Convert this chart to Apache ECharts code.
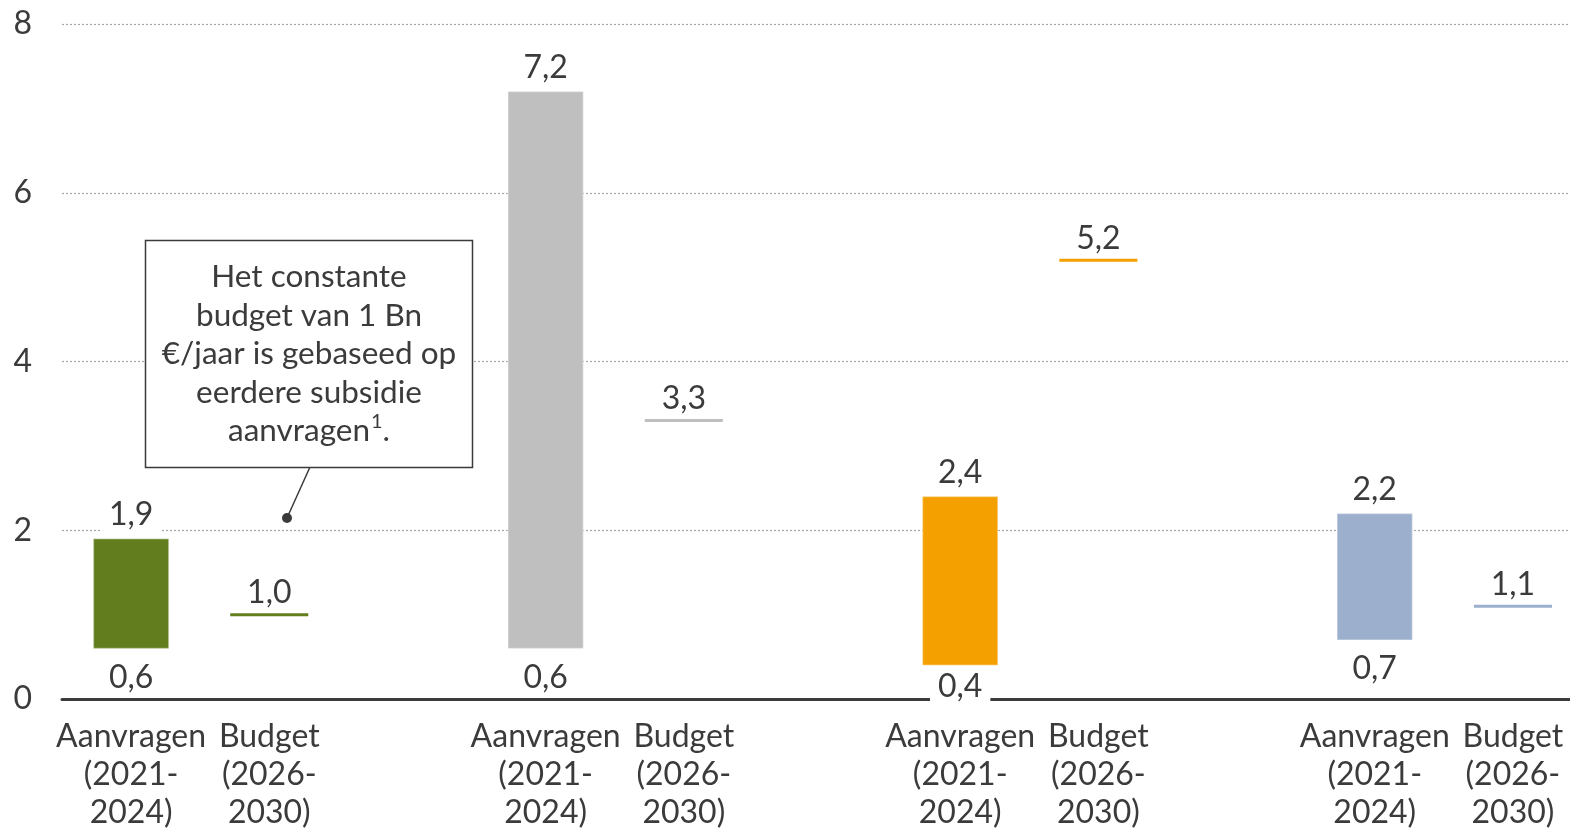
<!DOCTYPE html>
<html>
<head>
<meta charset="utf-8">
<script src="https://cdn.jsdelivr.net/npm/echarts@6/dist/echarts.min.js"></script>
<style>
  html, body { margin: 0; padding: 0; background: #fff; }
  #chart { width: 1570px; height: 828px; }
</style>
</head>
<body>
<div id="chart"></div>
<script>
// Category slots: request bar, budget line, spacer, repeated per group
const categories = [
  'Aanvragen\n(2021-\n2024)', 'Budget\n(2026-\n2030)', '',
  'Aanvragen\n(2021-\n2024)', 'Budget\n(2026-\n2030)', '',
  'Aanvragen\n(2021-\n2024)', 'Budget\n(2026-\n2030)', '',
  'Aanvragen\n(2021-\n2024)', 'Budget\n(2026-\n2030)'
];
const requestSlots = [0, 3, 6, 9];
const budgetSlots = [1, 4, 7, 10];
const requestLow = [0.6, 0.6, 0.4, 0.7];
const requestHigh = [1.9, 7.2, 2.4, 2.2];
const budget = [1.0, 3.3, 5.2, 1.1];
const groupColors = ['#617d1d', '#bfbfbf', '#f4a000', '#9cb0cd'];
const yTicks = { min: 0, max: 8, interval: 2 };

const TEXT = '#3b3b3b';
const FONT = 'Lato';
const FS = 32;

const fmt = v => v.toFixed(1).replace('.', ',');

const chart = echarts.init(document.getElementById('chart'));

const requestData = requestSlots.map((s, i) => [s, requestLow[i], requestHigh[i], i]);
const budgetData = budgetSlots.map((s, i) => [s, budget[i], i]);

function labelStyle(text, x, y) {
  return {
    text: text, x: x, y: y,
    align: 'center', verticalAlign: 'middle',
    fontFamily: FONT, fontSize: FS, fill: TEXT,
    backgroundColor: '#fff', padding: [2, 8]
  };
}

chart.setOption({
  animation: false,
  textStyle: { fontFamily: FONT },
  grid: {
    left: 62, top: 24, width: 1520, height: 675,
    containLabel: false, outerBoundsMode: 'none'
  },
  xAxis: {
    type: 'category',
    data: categories,
    boundaryGap: true,
    axisTick: { show: false },
    axisLine: { lineStyle: { color: TEXT, width: 3 } },
    axisLabel: {
      interval: 0, color: TEXT, fontFamily: FONT, fontSize: FS,
      lineHeight: 38, margin: 19, align: 'center', hideOverlap: false
    },
    splitLine: { show: false }
  },
  yAxis: {
    type: 'value',
    min: yTicks.min, max: yTicks.max, interval: yTicks.interval,
    axisLine: { show: false },
    axisTick: { show: false },
    axisLabel: { color: TEXT, fontFamily: FONT, fontSize: FS, margin: 30 },
    splitLine: { lineStyle: { color: '#a6a6a6', type: [2, 2], width: 1.2 } }
  },
  series: [
    {
      type: 'custom',
      data: requestData,
      encode: { x: 0, y: [1, 2] },
      z: 3,
      renderItem: function (params, api) {
        const x = api.value(0);
        const lo = api.value(1);
        const hi = api.value(2);
        const idx = api.value(3);
        const pLo = api.coord([x, lo]);
        const pHi = api.coord([x, hi]);
        const axisY = api.coord([x, 0])[1];
        const w = api.size([1, 0])[0] * 0.545;
        const bottomLabelY = Math.min(pLo[1] + 29, axisY - 12);
        return {
          type: 'group',
          children: [
            {
              type: 'rect',
              shape: { x: pLo[0] - w / 2, y: pHi[1], width: w, height: pLo[1] - pHi[1] },
              style: { fill: groupColors[idx], stroke: '#fff', lineWidth: 1.5, strokeOpacity: 0.35 }
            },
            { type: 'text', style: labelStyle(fmt(hi), pHi[0], pHi[1] - 24) },
            { type: 'text', style: labelStyle(fmt(lo), pLo[0], bottomLabelY) }
          ]
        };
      }
    },
    {
      type: 'custom',
      data: budgetData,
      encode: { x: 0, y: 1 },
      z: 3,
      renderItem: function (params, api) {
        const x = api.value(0);
        const v = api.value(1);
        const idx = api.value(2);
        const p = api.coord([x, v]);
        const w = api.size([1, 0])[0] * 0.565;
        return {
          type: 'group',
          children: [
            {
              type: 'line',
              shape: { x1: p[0] - w / 2, y1: p[1], x2: p[0] + w / 2, y2: p[1] },
              style: { stroke: groupColors[idx], lineWidth: 3 }
            },
            { type: 'text', style: labelStyle(fmt(v), p[0], p[1] - 22) }
          ]
        };
      }
    }
  ],
  graphic: [
    {
      type: 'line',
      shape: { x1: 310, y1: 467, x2: 287, y2: 518 },
      style: { stroke: TEXT, lineWidth: 1.5 },
      z: 10
    },
    {
      type: 'circle',
      shape: { cx: 287, cy: 518, r: 5 },
      style: { fill: TEXT },
      z: 10
    },
    {
      type: 'rect',
      shape: { x: 145.5, y: 240.5, width: 327, height: 227 },
      style: { fill: '#fff', stroke: TEXT, lineWidth: 1.5 },
      z: 10
    },
    {
      type: 'text',
      x: 309, y: 354,
      z: 11,
      style: {
        text: 'Het constante\nbudget van 1 Bn\n€/jaar is gebaseed op\neerdere subsidie\naanvragen{sup|1}.',
        align: 'center', verticalAlign: 'middle',
        fontFamily: FONT, fontSize: 31.5, lineHeight: 38.5, fill: TEXT,
        rich: {
          sup: { fontFamily: FONT, fontSize: 20, fill: TEXT, verticalAlign: 'top', lineHeight: 38.5, padding: [0, 0, 0, 1] }
        }
      }
    }
  ]
});
</script>
</body>
</html>
